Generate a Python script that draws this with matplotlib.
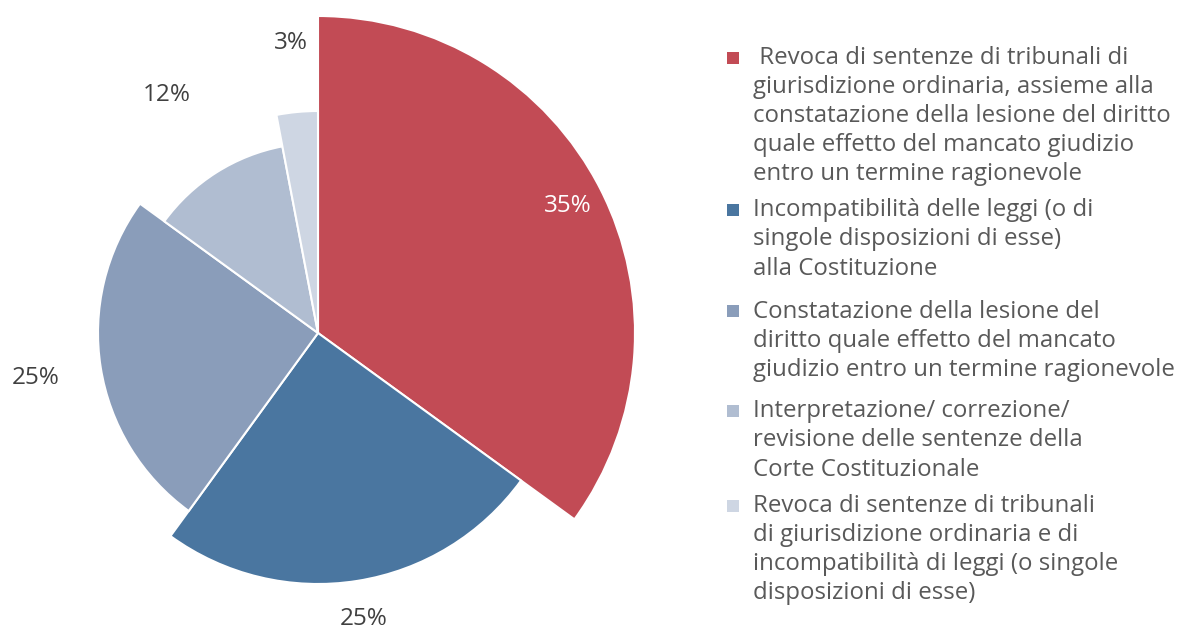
import numpy as np
import matplotlib.pyplot as plt
from matplotlib.patches import Rectangle

plt.rcParams['font.family'] = ['Open Sans', 'DejaVu Sans']

# data
values = [35, 25, 25, 12, 3]
pct_labels = ['35%', '25%', '25%', '12%', '3%']
radii = [317, 251, 220, 190, 222]   # each slice has its own radius (pixels)
colors = ['#C24B55', '#4A76A0', '#8A9DBA', '#B0BDD1', '#CED6E3']
legend_labels = [
    ' Revoca di sentenze di tribunali di\ngiurisdizione ordinaria, assieme alla\n'
    'constatazione della lesione del diritto\nquale effetto del mancato giudizio\n'
    'entro un termine ragionevole',
    'Incompatibilità delle leggi (o di\nsingole disposizioni di esse)\nalla Costituzione',
    'Constatazione della lesione del\ndiritto quale effetto del mancato\n'
    'giudizio entro un termine ragionevole',
    'Interpretazione/ correzione/\nrevisione delle sentenze della\nCorte Costituzionale',
    'Revoca di sentenze di tribunali\ndi giurisdizione ordinaria e di\n'
    'incompatibilità di leggi (o singole\ndisposizioni di esse)',
]

W, H = 1184, 631
fig = plt.figure(figsize=(W / 100, H / 100), dpi=100)
ax = fig.add_axes([0, 0, 1, 1])

cx, cy = 318, H - 333
wedges, _ = ax.pie(values, colors=colors, startangle=90, counterclock=False,
                   center=(cx, cy), radius=1,
                   wedgeprops=dict(edgecolor='white', linewidth=1.5))
for w, r in zip(wedges, radii):
    w.set_radius(r)

# percentage labels, placed along each slice's middle angle
label_dist = [280, 290, 286, 282, 291]
for i, (w, lab) in enumerate(zip(wedges, pct_labels)):
    mid = np.deg2rad((w.theta1 + w.theta2) / 2)
    d = label_dist[i]
    ax.text(cx + d * np.cos(mid), cy + d * np.sin(mid), lab,
            ha='center', va='center', fontsize=17.5,
            color='white' if i == 0 else '#404040')

# legend drawn by hand (markers sit on the first line)
line_h = 28.8
marker_y = [57.5, 209.5, 311, 410.5, 505.5]
base_y = [65, 217, 318.5, 418, 513]
for lab, col, my, by in zip(legend_labels, colors, marker_y, base_y):
    ax.add_patch(Rectangle((727, H - my - 6), 12, 12, color=col, lw=0))
    n = lab.count('\n')
    # multi-line baseline alignment uses the last line
    ax.text(753, H - (by + n * line_h), lab, ha='left', va='baseline',
            fontsize=17.3, color='#595959', linespacing=1.284)

ax.set_xlim(0, W)
ax.set_ylim(0, H)
ax.set_aspect('equal')
ax.axis('off')

fig.savefig('out.png', dpi=100)
